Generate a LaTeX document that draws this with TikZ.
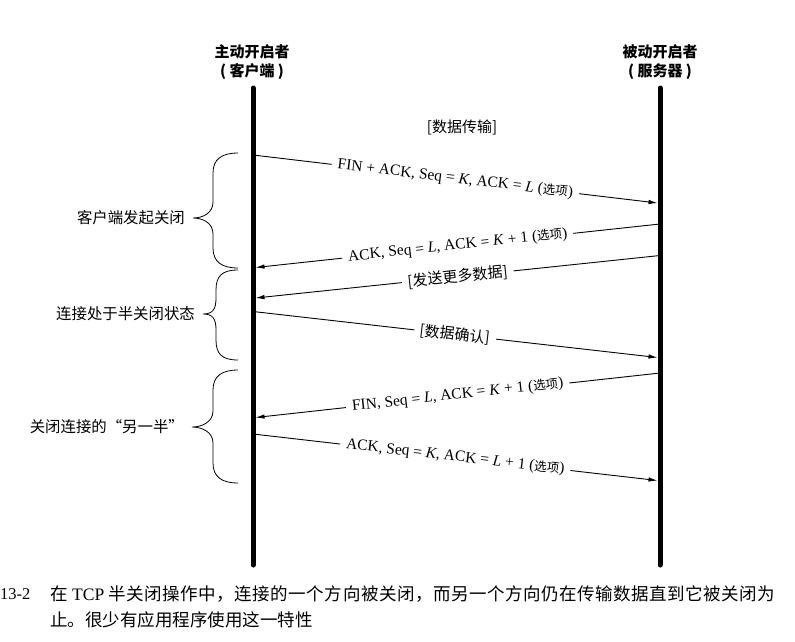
\documentclass[tikz,border=0pt]{standalone}
\usepackage{fontspec}
\setmainfont{Liberation Serif}
\newfontfamily\cjk{Noto Sans CJK SC}
\newfontfamily\cjkwide{Noto Sans CJK SC}[LetterSpace=3]
\usepackage{tikz}
\usetikzlibrary{arrows.meta,positioning}
\newcommand\opt{ ({\cjk\fontsize{12.5}{15}\selectfont 选项})}

\begin{document}
\begin{tikzpicture}[x=1pt,y=-1pt,
		life/.style={line width=5pt,line cap=round},
		msg/.style={line width=.9pt,-{Latex[length=9pt,width=4.5pt]}},
		lbl/.style={sloped,fill=white,inner xsep=6pt,inner ysep=1pt,pos=.5,font=\fontsize{15.5}{17}\selectfont},
		side/.style={anchor=east,inner sep=0pt,font=\cjk\fontsize{15.4}{18}\selectfont},
		head/.style={align=center,font=\cjk\bfseries\fontsize{15}{19}\selectfont},
		captext/.style={anchor=west,inner sep=0pt,font=\cjk\fontsize{17.5}{20}\selectfont}]
	\useasboundingbox (0,0) rectangle (795,641);
	\node[head] (client) at (252,62.5) {主动开启者\\( 客户端 )};
	\node[head] (server) at (660,62.5) {被动开启者\\( 服务器 )};
	\coordinate (ctop) at (253,88); \coordinate (cbot) at (253,565);
	\coordinate (stop) at (660,88); \coordinate (sbot) at (660,565);
	\draw[life] (ctop) -- (cbot);
	\draw[life] (stop) -- (sbot);
	\node[font=\cjk\fontsize{15}{17}\selectfont] (data) at (462,127) {[数据传输]};
	\foreach \n/\y in {c1/155,c4/311.5,c6/434} \coordinate (\n) at (253,\y);
	\foreach \n/\y in {s2/224,s3/255.5,s5/373} \coordinate (\n) at (660,\y);
	\foreach \n/\y in {c2/267.5,c3/298,c5/417.5} \coordinate (\n) at (255.5,\y);
	\foreach \n/\y in {s1/203,s4/357.5,s6/480.5} \coordinate (\n) at (657.5,\y);
	\draw[msg] (c1) -- node[lbl] {FIN + ACK, Seq = \textit{K}, ACK = \textit{L}\opt} (s1);
	\draw[msg] (s2) -- node[lbl] {ACK, Seq = \textit{L}, ACK = \textit{K} + 1\opt} (c2);
	\draw[msg] (s3) -- node[lbl,font=\cjk\fontsize{15}{17}\selectfont] {[发送更多数据]} (c3);
	\draw[msg] (c4) -- node[lbl,font=\cjk\fontsize{15}{17}\selectfont] {[数据确认]} (s4);
	\draw[msg] (s5) -- node[lbl] {FIN, Seq = \textit{L}, ACK = \textit{K} + 1\opt} (c5);
	\draw[msg] (c6) -- node[lbl] {ACK, Seq = \textit{K}, ACK = \textit{L} + 1\opt} (s6);
	\foreach \t/\b/\m/\v/\p/\txt [count=\i] in {153/268/218/213/193/客户端发起关闭,270/360/314/216/203/连接处于半关闭状态,370/483/427/213/192/关闭连接的“另一半”}{
		\draw[line width=.8pt] (238,\t) .. controls (222,\t) and (\v,\t+6) .. (\v,\t+20) -- (\v,\m-16) .. controls (\v,\m-5) and (\p+10,\m) .. (\p,\m)
			.. controls (\p+10,\m) and (\v,\m+5) .. (\v,\m+16) -- (\v,\b-20) .. controls (\v,\b-6) and (222,\b) .. (238,\b);
		\node[side] (phase\i) at (\p-8,\m) {\txt};
	}
	\node[captext,font=\fontsize{16.5}{20}\selectfont] (fignum) at (0,594) {13-2};
	\node[captext,font=\cjkwide\fontsize{17.5}{20}\selectfont] (cap1) at (50,594) {在 {\rmfamily TCP} 半关闭操作中，连接的一个方向被关闭，而另一个方向仍在传输数据直到它被关闭为};
	\node[captext] (cap2) at (50,620) {止。很少有应用程序使用这一特性};
\end{tikzpicture}
\end{document}
